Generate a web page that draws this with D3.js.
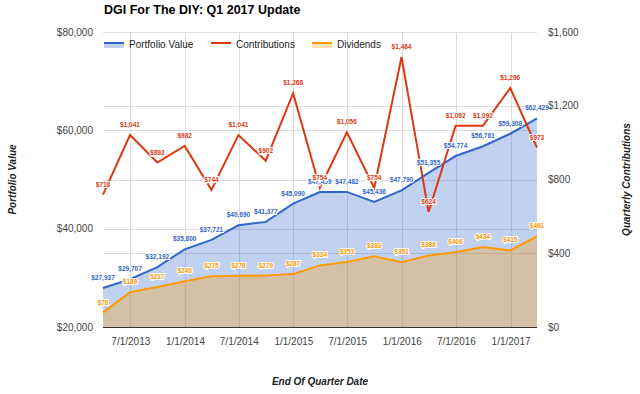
<!DOCTYPE html>
<html>
<head>
<meta charset="utf-8">
<script src="https://cdn.jsdelivr.net/npm/d3@7"></script>
<style>
  body { margin: 0; background: #fff; }
  svg { font-family: Arial, "Liberation Sans", sans-serif; }
</style>
</head>
<body>
<div id="chart"></div>
<script>
// quarter end dates and series
const quarterDates = ["2013-03-31", "2013-06-30", "2013-09-30", "2013-12-31",
  "2014-03-31", "2014-06-30", "2014-09-30", "2014-12-31",
  "2015-03-31", "2015-06-30", "2015-09-30", "2015-12-31",
  "2016-03-31", "2016-06-30", "2016-09-30", "2016-12-31", "2017-03-31"];
const portfolioValue = [27937, 29707, 32192, 35800, 37721, 40690, 41377, 45090,
  47459, 47482, 45436, 47790, 51355, 54774, 56761, 59308, 62429];
const contributions = [718, 1041, 892, 982, 744, 1041, 902, 1268,
  754, 1056, 754, 1464, 624, 1092, 1092, 1296, 973];
const dividends = [78, 189, 217, 248, 275, 278, 279, 287,
  334, 353, 383, 351, 388, 406, 434, 415, 491];

const xTickDates = ["2013-07-01", "2014-01-01", "2014-07-01", "2015-01-01",
  "2015-07-01", "2016-01-01", "2016-07-01", "2017-01-01"];
const leftTicks = [20000, 40000, 60000, 80000];
const rightTicks = [0, 400, 800, 1200, 1600];

const width = 640, height = 394;
const margin = { top: 32, right: 103, bottom: 67, left: 103 };

const parse = d3.timeParse("%Y-%m-%d");
const fmtDate = d3.timeFormat("%-m/%-d/%Y");
const money = d3.format("$,");

const blue = "#3366cc", red = "#dc3912", orange = "#ff9900";

const rows = quarterDates.map((d, i) => ({
  date: parse(d), value: portfolioValue[i], contrib: contributions[i], div: dividends[i]
}));

const svg = d3.select("#chart").append("svg")
  .attr("width", width)
  .attr("height", height);

const x = d3.scaleTime()
  .domain(d3.extent(rows, d => d.date))
  .range([margin.left, width - margin.right]);

const yLeft = d3.scaleLinear()
  .domain([20000, 80000])
  .range([height - margin.bottom, margin.top]);

const yRight = d3.scaleLinear()
  .domain([0, 1600])
  .range([height - margin.bottom, margin.top]);

// gridlines
const grid = svg.append("g").attr("stroke", "#dcdcdc").attr("stroke-width", 1);
grid.selectAll("line.gl").data(leftTicks.slice(1)).enter().append("line")
  .attr("x1", margin.left).attr("x2", width - margin.right)
  .attr("y1", d => Math.round(yLeft(d)) + 0.5).attr("y2", d => Math.round(yLeft(d)) + 0.5);
grid.selectAll("line.gr").data(rightTicks.slice(1)).enter().append("line")
  .attr("x1", margin.left).attr("x2", width - margin.right)
  .attr("y1", d => Math.round(yRight(d)) + 0.5).attr("y2", d => Math.round(yRight(d)) + 0.5);
grid.selectAll("line.gx").data(xTickDates.map(parse)).enter().append("line")
  .attr("x1", d => Math.round(x(d)) + 0.5).attr("x2", d => Math.round(x(d)) + 0.5)
  .attr("y1", margin.top).attr("y2", height - margin.bottom);

// areas
const areaValue = d3.area()
  .x(d => x(d.date))
  .y0(yLeft(20000))
  .y1(d => yLeft(d.value));
const areaDiv = d3.area()
  .x(d => x(d.date))
  .y0(yRight(0))
  .y1(d => yRight(d.div));

svg.append("path").datum(rows).attr("d", areaValue)
  .attr("fill", blue).attr("fill-opacity", 0.3);
svg.append("path").datum(rows).attr("d", areaDiv)
  .attr("fill", orange).attr("fill-opacity", 0.3);

// baseline
svg.append("line")
  .attr("x1", margin.left).attr("x2", width - margin.right)
  .attr("y1", height - margin.bottom + 0.5).attr("y2", height - margin.bottom + 0.5)
  .attr("stroke", "#333");

// lines
const lineValue = d3.line().x(d => x(d.date)).y(d => yLeft(d.value));
const lineContrib = d3.line().x(d => x(d.date)).y(d => yRight(d.contrib));
const lineDiv = d3.line().x(d => x(d.date)).y(d => yRight(d.div));

svg.append("path").datum(rows).attr("d", lineValue)
  .attr("fill", "none").attr("stroke", blue).attr("stroke-width", 2);
svg.append("path").datum(rows).attr("d", lineDiv)
  .attr("fill", "none").attr("stroke", orange).attr("stroke-width", 2);
svg.append("path").datum(rows).attr("d", lineContrib)
  .attr("fill", "none").attr("stroke", red).attr("stroke-width", 2);

// point labels
function addLabels(key, scale, color) {
  svg.append("g").selectAll("text").data(rows).enter().append("text")
    .attr("x", d => x(d.date))
    .attr("y", d => scale(d[key]) - 8)
    .attr("text-anchor", "middle")
    .attr("font-size", 6.5)
    .attr("font-weight", "bold")
    .attr("fill", color)
    .attr("stroke", "#fff")
    .attr("stroke-width", 2)
    .attr("paint-order", "stroke")
    .text(d => money(d[key]));
}
addLabels("value", yLeft, blue);
addLabels("div", yRight, orange);
addLabels("contrib", yRight, red);

// axes
const axisText = "#444";
const leftAxis = svg.append("g")
  .attr("transform", `translate(${margin.left - 10},0)`)
  .call(d3.axisLeft(yLeft).tickValues(leftTicks).tickFormat(money).tickSize(0).tickPadding(0));
const rightAxis = svg.append("g")
  .attr("transform", `translate(${width - margin.right + 11},0)`)
  .call(d3.axisRight(yRight).tickValues(rightTicks).tickFormat(money).tickSize(0).tickPadding(0));
const bottomAxis = svg.append("g")
  .attr("transform", `translate(0,${height - margin.bottom + 6})`)
  .call(d3.axisBottom(x).tickValues(xTickDates.map(parse)).tickFormat(fmtDate).tickSize(0).tickPadding(5));

[leftAxis, rightAxis, bottomAxis].forEach(a => {
  a.select(".domain").remove();
  a.selectAll("text").attr("fill", axisText).attr("font-size", 10)
    .attr("font-family", "Arial, 'Liberation Sans', sans-serif");
});

// title
svg.append("text")
  .attr("x", margin.left + 1).attr("y", 14)
  .attr("font-size", 12.5).attr("font-weight", "bold").attr("fill", "#000")
  .text("DGI For The DIY: Q1 2017 Update");

// axis titles
svg.append("text")
  .attr("transform", `translate(16,${(margin.top + height - margin.bottom) / 2}) rotate(-90)`)
  .attr("text-anchor", "middle")
  .attr("font-size", 10).attr("font-weight", "bold").attr("font-style", "italic").attr("fill", "#222")
  .text("Portfolio Value");
svg.append("text")
  .attr("transform", `translate(630,${(margin.top + height - margin.bottom) / 2}) rotate(-90)`)
  .attr("text-anchor", "middle")
  .attr("font-size", 10).attr("font-weight", "bold").attr("font-style", "italic").attr("fill", "#222")
  .text("Quarterly Contributions");
svg.append("text")
  .attr("x", (margin.left + width - margin.right) / 2).attr("y", 385)
  .attr("text-anchor", "middle")
  .attr("font-size", 10).attr("font-weight", "bold").attr("font-style", "italic").attr("fill", "#222")
  .text("End Of Quarter Date");

// legend
const legendItems = [
  { name: "Portfolio Value", color: blue, area: true, x: 104 },
  { name: "Contributions", color: red, area: false, x: 211 },
  { name: "Dividends", color: orange, area: true, x: 312 }
];
const legend = svg.append("g");
legendItems.forEach(it => {
  if (it.area) {
    legend.append("rect")
      .attr("x", it.x).attr("y", 42).attr("width", 20).attr("height", 6)
      .attr("fill", it.color).attr("fill-opacity", 0.3);
  }
  legend.append("line")
    .attr("x1", it.x).attr("x2", it.x + 20)
    .attr("y1", 43).attr("y2", 43)
    .attr("stroke", it.color).attr("stroke-width", 2);
  legend.append("text")
    .attr("x", it.x + 25).attr("y", 47.5)
    .attr("font-size", 10).attr("fill", "#222")
    .text(it.name);
});
</script>
</body>
</html>
